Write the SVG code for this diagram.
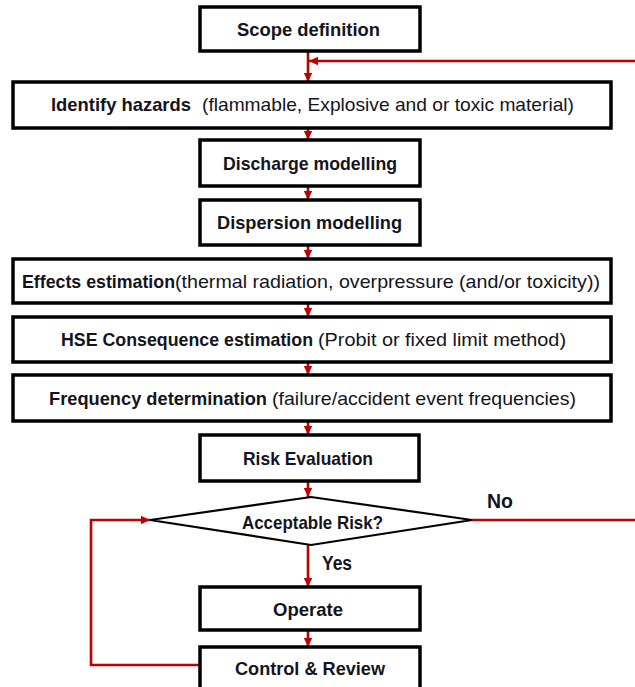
<svg xmlns="http://www.w3.org/2000/svg" width="635" height="687" viewBox="0 0 635 687">
  <defs>
    <marker id="arrow" markerUnits="userSpaceOnUse" markerWidth="10" markerHeight="10" refX="9" refY="5" orient="auto">
      <path d="M0,0.8 L9,5 L0,9.2 Z" fill="#c00000"/>
    </marker>
    <style>
      .box { fill: #ffffff; stroke: #000000; stroke-width: 3.5; }
      .dia { fill: #ffffff; stroke: #000000; stroke-width: 2.2; }
      .lbl { font-family: "Liberation Sans", Arial, sans-serif; font-size: 19px; fill: #141420; }
      .big { font-size: 20px; }
      .b { font-weight: bold; }
      .link { fill: none; stroke: #c00000; stroke-width: 2.6; }
      .arr { marker-end: url(#arrow); }
    </style>
  </defs>

  <!-- connectors -->
  <g id="connectors">
    <line class="link arr" x1="308" y1="51" x2="308" y2="82"/>
    <line class="link arr" x1="308" y1="128" x2="308" y2="140"/>
    <line class="link arr" x1="308" y1="186" x2="308" y2="200"/>
    <line class="link arr" x1="308" y1="245" x2="308" y2="259"/>
    <line class="link arr" x1="308" y1="303" x2="308" y2="317"/>
    <line class="link arr" x1="308" y1="362" x2="308" y2="375"/>
    <line class="link arr" x1="308" y1="421" x2="308" y2="435"/>
    <line class="link arr" x1="308" y1="481" x2="308" y2="497"/>
    <line class="link arr" x1="308" y1="545" x2="308" y2="587"/>
    <line class="link arr" x1="308" y1="630" x2="308" y2="647"/>
    <!-- feedback from the right edge into the top of the chain -->
    <line class="link arr" x1="635" y1="61" x2="309" y2="61"/>
    <!-- "No" branch -->
    <line class="link" x1="472" y1="520" x2="635" y2="520"/>
    <!-- review loop back to the decision -->
    <polyline class="link arr" points="200,665 91,665 91,520 150,520"/>
    <text class="lbl big b" x="337" y="570" text-anchor="middle" textLength="30" lengthAdjust="spacingAndGlyphs">Yes</text>
    <text class="lbl big b" x="500" y="508" text-anchor="middle" textLength="26" lengthAdjust="spacingAndGlyphs">No</text>
  </g>

  <g id="scope">
    <rect class="box" x="200" y="7" width="220" height="44"/>
    <text class="lbl b" x="237" y="36" textLength="143" lengthAdjust="spacingAndGlyphs">Scope definition</text>
  </g>

  <g id="identify">
    <rect class="box" x="13" y="82" width="598" height="46"/>
    <text class="lbl" x="51" y="111"><tspan class="b" textLength="140" lengthAdjust="spacingAndGlyphs">Identify hazards</tspan><tspan x="202" textLength="372" lengthAdjust="spacingAndGlyphs">(flammable, Explosive and or toxic material)</tspan></text>
  </g>

  <g id="discharge">
    <rect class="box" x="200" y="140" width="220" height="46"/>
    <text class="lbl b" x="223" y="170" textLength="174" lengthAdjust="spacingAndGlyphs">Discharge modelling</text>
  </g>

  <g id="dispersion">
    <rect class="box" x="200" y="200" width="220" height="45"/>
    <text class="lbl b" x="217" y="229" textLength="185" lengthAdjust="spacingAndGlyphs">Dispersion modelling</text>
  </g>

  <g id="effects">
    <rect class="box" x="13" y="259" width="598" height="44"/>
    <text class="lbl" x="22" y="288"><tspan class="b" textLength="153" lengthAdjust="spacingAndGlyphs">Effects estimation</tspan><tspan x="175" textLength="425" lengthAdjust="spacingAndGlyphs">(thermal radiation, overpressure (and/or toxicity))</tspan></text>
  </g>

  <g id="hse">
    <rect class="box" x="13" y="317" width="598" height="45"/>
    <text class="lbl" x="61" y="346"><tspan class="b" textLength="252" lengthAdjust="spacingAndGlyphs">HSE Consequence estimation</tspan><tspan x="318" textLength="248" lengthAdjust="spacingAndGlyphs">(Probit or fixed limit method)</tspan></text>
  </g>

  <g id="frequency">
    <rect class="box" x="13" y="375" width="598" height="46"/>
    <text class="lbl" x="49" y="405"><tspan class="b" textLength="218" lengthAdjust="spacingAndGlyphs">Frequency determination</tspan><tspan x="272" textLength="304" lengthAdjust="spacingAndGlyphs">(failure/accident event frequencies)</tspan></text>
  </g>

  <g id="risk-evaluation">
    <rect class="box" x="200" y="435" width="219" height="46"/>
    <text class="lbl b" x="243" y="465" textLength="130" lengthAdjust="spacingAndGlyphs">Risk Evaluation</text>
  </g>

  <g id="acceptable-risk">
    <polygon class="dia" points="311,497 472,520 311,545 150,520"/>
    <text class="lbl b" x="242" y="529" textLength="141" lengthAdjust="spacingAndGlyphs">Acceptable Risk?</text>
  </g>

  <g id="operate">
    <rect class="box" x="200" y="587" width="220" height="43"/>
    <text class="lbl b" x="273" y="616" textLength="70" lengthAdjust="spacingAndGlyphs">Operate</text>
  </g>

  <g id="control-review">
    <rect class="box" x="200" y="647" width="220" height="46"/>
    <text class="lbl b" x="235" y="675" textLength="150" lengthAdjust="spacingAndGlyphs">Control &amp; Review</text>
  </g>
</svg>
